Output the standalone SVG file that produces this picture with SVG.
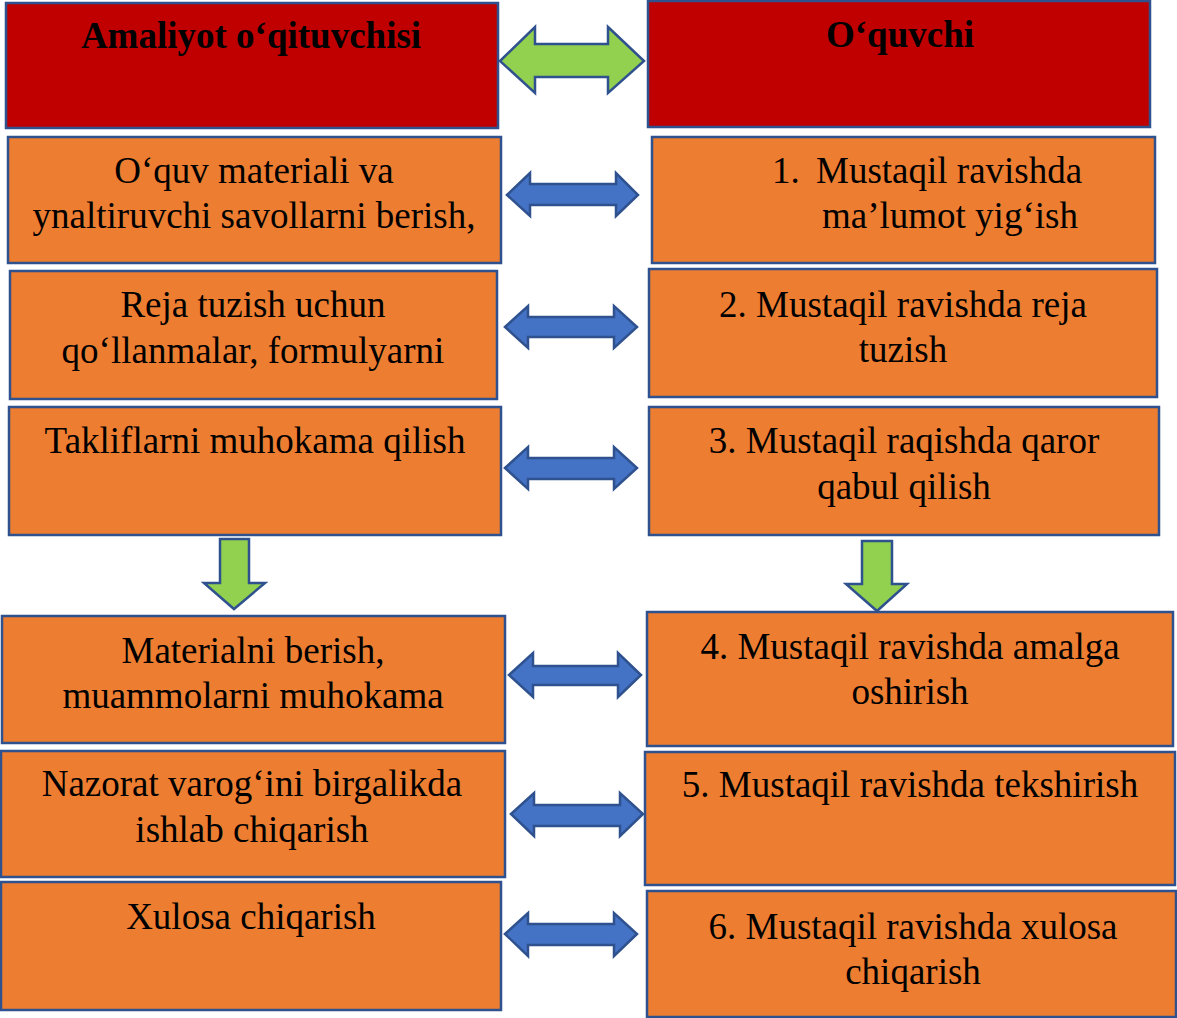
<svg xmlns="http://www.w3.org/2000/svg" width="1177" height="1018" viewBox="0 0 1177 1018">
<style>
.hdr{fill:#C00000;stroke:#2F528F;stroke-width:2.5}
.box{fill:#ED7D31;stroke:#2F528F;stroke-width:2.5}
.t{font-family:"Liberation Serif","Times New Roman",serif;font-size:37px;fill:#000;text-anchor:middle}
.tb{font-family:"Liberation Serif","Times New Roman",serif;font-size:37px;font-weight:bold;fill:#000;text-anchor:middle}
.ts{font-family:"Liberation Serif","Times New Roman",serif;font-size:37px;fill:#000}
.ba{fill:#4472C4;stroke:#2F528F;stroke-width:2.5;stroke-linejoin:miter}
.ga{fill:#92D050;stroke:#2F528F;stroke-width:2.5;stroke-linejoin:miter}
</style>
<rect width="1177" height="1018" fill="#fff"/>
<g id="h-left"><rect class="hdr" x="6" y="3" width="492" height="125"/><text class="tb" x="251" y="48">Amaliyot o‘qituvchisi</text></g>
<g id="h-right"><rect class="hdr" x="648" y="1" width="502" height="126"/><text class="tb" x="900" y="47">O‘quvchi</text></g>
<g id="l1"><rect class="box" x="8" y="137" width="493" height="126"/><text class="t" x="254" y="183">O‘quv materiali va</text><text class="t" x="254" y="228">ynaltiruvchi savollarni berish,</text></g>
<g id="r1"><rect class="box" x="652" y="137" width="503" height="126"/><text class="ts" x="772" y="183">1.</text><text class="ts" x="816" y="183">Mustaqil ravishda</text><text class="ts" x="822" y="228">ma’lumot yig‘ish</text></g>
<g id="l2"><rect class="box" x="10" y="271" width="487" height="128"/><text class="t" x="253" y="317">Reja tuzish uchun</text><text class="t" x="253" y="363">qo‘llanmalar, formulyarni</text></g>
<g id="r2"><rect class="box" x="649" y="269" width="508" height="128"/><text class="t" x="903" y="317">2. Mustaqil ravishda reja</text><text class="t" x="903" y="362">tuzish</text></g>
<g id="l3"><rect class="box" x="9" y="407" width="492" height="128"/><text class="t" x="255" y="453">Takliflarni muhokama qilish</text></g>
<g id="r3"><rect class="box" x="649" y="407" width="510" height="128"/><text class="t" x="904" y="453">3. Mustaqil raqishda qaror</text><text class="t" x="904" y="499">qabul qilish</text></g>
<g id="l4"><rect class="box" x="2" y="616" width="503" height="127"/><text class="t" x="253" y="663">Materialni berish,</text><text class="t" x="253" y="708">muammolarni muhokama</text></g>
<g id="r4"><rect class="box" x="647" y="612" width="526" height="134"/><text class="t" x="910" y="659">4. Mustaqil ravishda amalga</text><text class="t" x="910" y="704">oshirish</text></g>
<g id="l5"><rect class="box" x="1" y="751" width="504" height="126"/><text class="t" x="252" y="796">Nazorat varog‘ini birgalikda</text><text class="t" x="252" y="842">ishlab chiqarish</text></g>
<g id="r5"><rect class="box" x="645" y="752" width="530" height="133"/><text class="t" x="910" y="797">5. Mustaqil ravishda tekshirish</text></g>
<g id="l6"><rect class="box" x="1" y="882" width="500" height="128"/><text class="t" x="251" y="929">Xulosa chiqarish</text></g>
<g id="r6"><rect class="box" x="647" y="891" width="529" height="126"/><text class="t" x="913" y="939">6. Mustaqil ravishda xulosa</text><text class="t" x="913" y="984">chiqarish</text></g>
<g id="connectors">
<path class="ga" d="M500,61 L535,27 L535,44 L608,44 L608,27 L644,61 L608,93 L608,77 L535,77 L535,93 Z"/>
<path class="ba" d="M507,195 L530,173 L530,184 L616,184 L616,173 L638,195 L616,216 L616,205 L530,205 L530,216 Z"/>
<path class="ba" d="M505,327 L528,306 L528,317 L614,317 L614,306 L637,327 L614,348 L614,337 L528,337 L528,348 Z"/>
<path class="ba" d="M505,468 L528,447 L528,458 L614,458 L614,447 L637,468 L614,489 L614,479 L528,479 L528,489 Z"/>
<path class="ga" d="M220,539 L249,539 L249,583 L265,583 L234,609 L204,583 L220,583 Z"/>
<path class="ga" d="M862,541 L892,541 L892,584 L907,584 L877,611 L846,584 L862,584 Z"/>
<path class="ba" d="M509,675 L533,653 L533,666 L618,666 L618,653 L641,675 L618,697 L618,685 L533,685 L533,697 Z"/>
<path class="ba" d="M511,814 L534,793 L534,805 L620,805 L620,793 L643,814 L620,836 L620,826 L534,826 L534,836 Z"/>
<path class="ba" d="M505,934 L528,913 L528,924 L614,924 L614,913 L637,934 L614,956 L614,945 L528,945 L528,956 Z"/>
</g>
</svg>
